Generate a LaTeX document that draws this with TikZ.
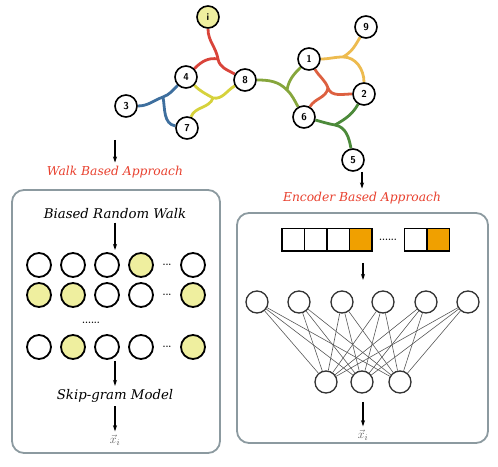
\documentclass[tikz,border=0pt]{standalone}
\usepackage{fontspec}
\newfontfamily\labfont{DejaVu Serif}
\usepackage{tikz}
\usetikzlibrary{arrows.meta,backgrounds}

\definecolor{lred}{HTML}{E8402E}
\definecolor{cred}{HTML}{D9443A}
\definecolor{cyel}{HTML}{D6D23C}
\definecolor{cblue}{HTML}{3E6F9E}
\definecolor{cgreen}{HTML}{86A63C}
\definecolor{corange}{HTML}{EDBB4F}
\definecolor{credor}{HTML}{DD6040}
\definecolor{cdkgreen}{HTML}{4C8A3A}
\definecolor{lyel}{HTML}{EFEF9F}
\definecolor{boxgray}{HTML}{8C9AA0}
\definecolor{cellor}{HTML}{F0A000}

\tikzset{
  gnode/.style={circle, draw, line width=1.6pt, fill=white, minimum size=22pt, inner sep=0pt,
                font=\fontsize{10}{12}\selectfont\sffamily\bfseries},
  walker/.style={circle, draw, line width=1.8pt, minimum size=24pt, inner sep=0pt},
  unit/.style={circle, draw=black!80, line width=1.3pt, fill=white, minimum size=22pt, inner sep=0pt},
  cell/.style={rectangle, draw, line width=1.5pt, minimum size=22.5pt, inner sep=0pt},
  edge/.style={line width=2.8pt},
  wire/.style={draw=black!65, line width=0.6pt},
  arr/.style={-{Stealth[length=6pt,width=4pt]}, line width=1.2pt},
  panel/.style={draw=boxgray, line width=1.8pt, rounded corners=12pt},
  lab/.style={font=\fontsize{13.3}{16}\selectfont\labfont\itshape},
  redlab/.style={font=\fontsize{12.3}{15}\selectfont\labfont\itshape, text=lred},
  vec/.style={font=\fontsize{13}{15}\selectfont, text=black!65}
}

\begin{document}
\begin{tikzpicture}[x=1pt,y=1pt]
\useasboundingbox (0,0) rectangle (498,466);

    % Graph
    \node[gnode, fill=lyel] (i) at (208,449) {i};
    \node[gnode] (n4) at (186,389) {4};
    \node[gnode] (n8) at (245,386) {8};
    \node[gnode] (n3) at (126,360) {3};
    \node[gnode] (n7) at (187,338) {7};
    \node[gnode] (n1) at (309,407) {1};
    \node[gnode] (n9) at (366,439) {9};
    \node[gnode] (n2) at (364,372) {2};
    \node[gnode] (n6) at (304,349) {6};
    \node[gnode] (n5) at (353,306) {5};

    % Verzweigungen
    \coordinate (jr) at (218,407);
    \coordinate (jy) at (213,368);
    \coordinate (jb) at (163,369);
    \coordinate (jg) at (287,376);
    \coordinate (jo) at (343,409);
    \coordinate (jro) at (328,378);
    \coordinate (jd) at (335,341);

    \begin{pgfonlayer}{background}
      \draw[edge, cred] (i) to[out=-90,in=100] (jr) to[out=-80,in=150] (n8);
      \draw[edge, cred] (jr) to[out=170,in=45] (n4);
      \draw[edge, cyel] (n4) to[out=-45,in=150] (jy) to[out=-10,in=-150] (n8);
      \draw[edge, cyel] (jy) to[out=-110,in=70] (n7);
      \draw[edge, cblue] (n3) to[out=0,in=-160] (jb) to[out=20,in=-135] (n4);
      \draw[edge, cblue] (jb) to[out=-80,in=170] (n7);
      \draw[edge, cgreen] (n8) to[out=0,in=135] (jg) to[out=-45,in=120] (n6);
      \draw[edge, cgreen] (jg) to[out=80,in=-135] (n1);
      \draw[edge, corange] (n1) to[out=0,in=180] (jo) to[out=0,in=90] (n2);
      \draw[edge, corange] (n9) to[out=-120,in=30] (jo);
      \draw[edge, credor] (n1) to[out=-60,in=110] (jro) to[out=-70,in=180] (n2);
      \draw[edge, credor] (jro) to[out=-100,in=60] (n6);
      \draw[edge, cdkgreen] (n6) to[out=-15,in=170] (jd) to[out=-10,in=100] (n5);
      \draw[edge, cdkgreen] (jd) to[out=30,in=-120] (n2);
    \end{pgfonlayer}

    % Walk Based Approach
    \coordinate (wtop) at (115,326);
    \node[redlab] (walkl) at (115,294) {Walk Based Approach};
    \draw[arr] (wtop) -- (walkl);
    \draw[panel] (12,13) rectangle (220,276);

    \node[lab] (brw) at (115,252) {Biased Random Walk};
    \foreach \c/\x/\f in {1/39/white,2/73/white,3/107/white,4/141/lyel,5/193/white}
      \node[walker, fill=\f] (a\c) at (\x,201) {};
    \foreach \c/\x/\f in {1/39/lyel,2/73/lyel,3/107/white,4/141/white,5/193/lyel}
      \node[walker, fill=\f] (b\c) at (\x,171) {};
    \foreach \c/\x/\f in {1/39/white,2/73/lyel,3/107/white,4/141/white,5/193/lyel}
      \node[walker, fill=\f] (c\c) at (\x,119) {};
    \node[font=\bfseries\small] (adots) at (167,201) {...};
    \node[font=\bfseries\small] (bdots) at (167,171) {...};
    \node[font=\bfseries\small] (cdots) at (167,119) {...};
    \node[font=\bfseries\small] (rdots) at (91,143) {......};

    \node[lab] (skip) at (115,70) {Skip-gram Model};
    \node[vec] (xl) at (115,26) {$\vec{x}_i$};
    \draw[arr] (brw) -- (115,216);
    \draw[arr] (115,105) -- (skip);
    \draw[arr] (skip) -- (xl);

    % Encoder Based Approach
    \node[redlab] (encl) at (362,268) {Encoder Based Approach};
    \draw[arr] (n5.south -| encl.north) -- (encl);
    \draw[panel] (237,23) rectangle (488,253);

    \node[cell] (e1) at (293,226) {};
    \node[cell] (e2) at (315.5,226) {};
    \node[cell] (e3) at (338,226) {};
    \node[cell, fill=cellor] (e4) at (360.5,226) {};
    \node[font=\bfseries\small] (edots) at (388,226) {......};
    \node[cell] (e5) at (415.5,226) {};
    \node[cell, fill=cellor] (e6) at (438,226) {};

    % Netz
    \foreach \k/\x in {1/257,2/299,3/342,4/383,5/426,6/468}
      \node[unit] (u\k) at (\x,164) {};
    \foreach \k/\x in {1/326,2/362,3/400}
      \node[unit] (h\k) at (\x,84) {};
    \begin{pgfonlayer}{background}
      \foreach \a in {1,...,6}
        \foreach \b in {1,2,3}
          \draw[wire] (u\a) -- (h\b);
    \end{pgfonlayer}

    \coordinate (eup) at (363,203);
    \coordinate (edn) at (363,186);
    \draw[arr] (eup) -- (edn);
    \node[vec] (xr) at (363,31) {$\vec{x}_i$};
    \draw[arr] (363,64) -- (xr);

\end{tikzpicture}
\end{document}
